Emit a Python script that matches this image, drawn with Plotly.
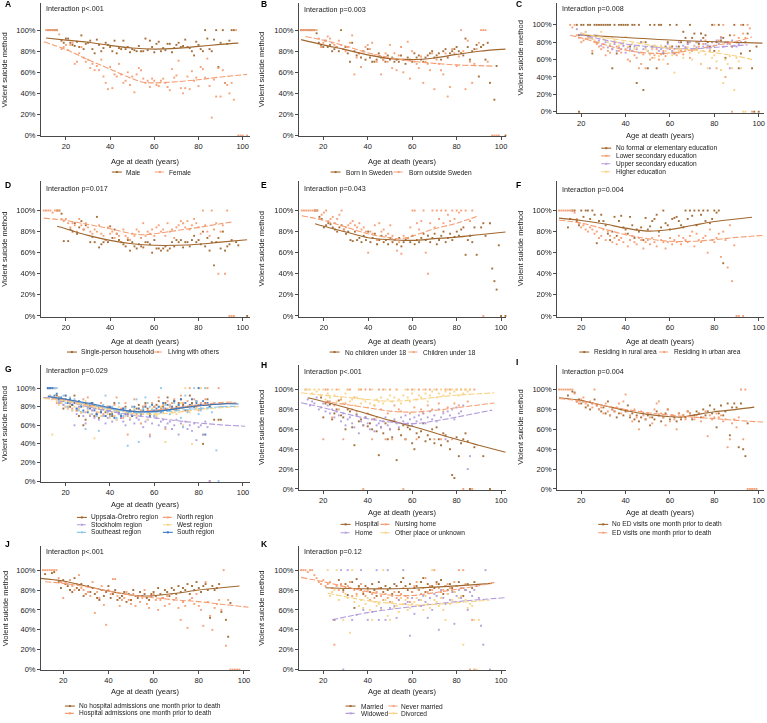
import plotly.graph_objects as go

W, H = 767, 723
N = None

BROWN = "#A0672F"
SALMON = "#F59D72"
PURPLE = "#B29CDC"
YELLOW = "#F8D283"
LBLUE = "#8CC6EA"
BLUE = "#3D78C4"

# ---------------- DATA ----------------
# scatter: first age, then one value (% violent) per consecutive age (None = no point)
# curves: ages and smoothed values

# A
A_labels = ["Male", "Female"]
A_male_start = 12
A_male = [100,100,100,100,100,N,90,88,92,92,88,86,85,89,84,95,82,87,88,90,82,78,91,86,80,83,88,86,84,80,90,78,83,82,90,82,84,79,82,81,80,85,80,80,92,81,90,84,79,87,89,80,83,81,87,87,79,83,86,88,84,85,91,84,83,80,76,89,86,82,80,100,92,82,80,91,100,65,88,100,50,87,90,100,100]
A_female_start = 11
A_female = [100,100,100,100,100,100,96,82,84,86,81,86,88,68,70,78,84,74,70,72,64,68,62,66,62,72,56,50,44,65,45,58,56,68,58,50,52,60,48,56,41,58,64,62,54,50,52,46,54,52,48,47,52,54,50,46,43,63,55,57,71,45,40,45,56,44,61,52,55,47,65,63,55,73,47,17,53,37,64,37,62,50,48,40,50,34,100,0,0,0,N,0]
A_male_cx = [11, 20, 30, 40, 50, 60, 70, 80, 90, 98]
A_male_cy = [92.5, 90.5, 88.5, 85.5, 83, 82, 82.7, 84.6, 86.5, 87.7]
A_female_cx = [10, 20, 30, 40, 50, 55, 60, 70, 80, 90, 102]
A_female_cy = [89, 81.5, 72, 63, 54, 50.5, 50, 51, 53, 55.5, 58]

# B
B_labels = ["Born in Sweden", "Born outside Sweden"]
B_swe_start = 10
B_swe = [100,100,100,100,100,100,100,97,88,86,84,90,84,86,80,82,84,80,100,82,84,78,70,88,80,76,78,74,80,72,82,74,70,70,72,78,74,72,70,76,72,74,70,72,70,76,72,68,74,72,70,78,74,76,72,70,74,76,78,80,74,76,78,72,80,82,74,78,80,82,84,80,78,76,92,84,72,80,82,86,56,84,86,72,88,50,N,34,66,N,N,N,0]
B_out_start = 10
B_out = [100,100,100,100,100,100,100,100,92,84,88,90,94,92,88,86,84,90,86,82,80,84,88,95,58,74,78,65,80,84,86,82,88,76,70,75,58,72,78,70,86,64,78,62,76,84,60,72,89,54,80,70,68,64,75,50,70,68,62,78,44,72,68,62,58,78,37,46,82,78,66,75,100,80,44,90,70,50,68,82,88,100,100,100,70,N,0,0,0,0]
B_swe_cx = [10, 20, 30, 40, 50, 60, 70, 80, 90, 102]
B_swe_cy = [91, 86, 81.5, 76.5, 73, 72, 73.6, 77, 80, 82]
B_out_cx = [12, 20, 30, 40, 50, 60, 70, 80, 90, 97]
B_out_cy = [94, 90.5, 85, 78.5, 74, 70.5, 68.5, 67, 66.3, 65.8]

# C
C_labels = ["No formal or elementary education", "Lower secondary education",
            "Upper secondary education", "Higher education"]
C_none_start = 18
C_none = [100,0,100,100,N,100,100,67,100,100,100,100,100,100,100,100,50,100,67,100,100,100,100,100,75,100,100,33,100,80,25,80,50,100,75,100,50,100,100,67,75,80,100,75,67,100,75,80,92,85,80,100,85,90,80,78,90,85,88,80,75,100,70,80,100,82,85,62,80,88,75,100,80,50,67,100,80,90,70,50,0,75,0]
C_low_start = 15
C_low = [100,97,100,88,85,80,82,84,85,86,70,80,78,75,72,74,65,70,68,72,80,75,70,68,76,72,60,58,70,65,62,50,55,66,50,70,60,62,65,72,60,66,70,64,55,74,68,72,65,68,70,66,74,78,62,70,72,80,75,55,78,82,76,70,80,100,50,82,86,100,40,80,78,0,88,80,85,100,90,85,100,96,0]
C_up_start = 18
C_up = [95,88,90,89,92,86,85,84,88,80,82,76,78,80,74,76,72,78,70,74,72,76,68,74,72,70,75,72,68,80,72,74,70,66,72,76,74,70,72,68,74,78,72,70,68,75,80,72,76,74,78,80,72,76,74,80,82,75,78,76,50,80,76,82,78,85,75,80,78,50,82,76,75,78,80]
C_high_start = 20
C_high = [90,88,92,86,85,84,82,88,80,92,84,82,80,78,85,82,80,76,78,80,86,75,70,78,72,74,76,68,80,72,70,66,72,62,68,64,76,60,70,72,75,65,45,68,70,72,62,70,74,68,60,75,72,68,55,70,66,50,72,62,65,58,70,48,33,60,55,64,50,25,62,58,50,0,0]
C_none_cx = [18.5, 40, 60, 80, 101.7]
C_none_cy = [88.5, 85.5, 82.5, 80.5, 79]
C_low_cx = [15, 20, 30, 40, 50, 60, 70, 80, 90, 97]
C_low_cy = [88, 85, 77.5, 71, 67.5, 67.5, 71, 76, 81, 86]
C_up_cx = [19, 30, 40, 50, 60, 70, 80, 90, 95]
C_up_cy = [89, 83, 78, 75, 73, 72.5, 74, 76, 77]
C_high_cx = [20, 30, 40, 50, 60, 70, 80, 90, 97]
C_high_cy = [90, 85.5, 81.7, 77, 73, 71, 68, 64, 60]

# D
D_labels = ["Single-person household", "Living with others"]
D_single_start = 16
D_single = [100,100,97,71,N,71,82,80,88,78,84,90,82,86,N,70,75,70,94,65,68,70,72,70,85,74,82,78,72,70,68,66,72,62,70,66,64,68,66,65,70,70,68,60,72,64,64,62,64,66,62,64,70,66,72,70,72,65,70,70,66,72,76,70,72,68,80,66,74,62,70,48,70,74,64,80,62,66,68,72,N,70,67,N,N,N,0]
D_others_start = 10
D_others = [100,100,100,100,98,100,100,100,92,90,92,88,84,88,86,80,92,86,82,88,84,80,78,82,80,86,78,76,72,84,78,80,74,78,76,70,82,76,74,72,78,76,82,80,74,88,76,80,78,82,76,84,86,80,82,76,88,80,82,74,84,86,90,88,84,90,82,86,92,88,84,78,100,86,80,76,100,82,88,40,80,86,40,100,0,0,0]
D_single_cx = [16, 20, 30, 40, 50, 60, 70, 80, 90, 102]
D_single_cy = [85, 82.7, 76.4, 71.7, 68.5, 67, 67, 68, 70, 72.3]
D_others_cx = [10, 20, 30, 40, 50, 55, 60, 70, 80, 90, 95]
D_others_cy = [92.8, 90.6, 86.8, 82.7, 78, 77, 78, 81, 84, 87.4, 89]

# E
E_labels = ["No children under 18", "Children under 18"]
E_nochild_start = 16
E_nochild = [100,100,94,92,84,86,88,87,84,82,80,84,86,82,78,80,72,71,80,72,74,70,76,72,80,70,74,78,68,72,76,70,72,68,74,70,72,68,74,66,70,72,74,70,76,68,72,70,74,78,72,76,70,74,78,68,72,76,80,70,74,78,72,75,80,76,82,84,58,72,76,70,84,58,N,84,88,76,N,88,45,33,25,67,0,N,0]
E_child_start = 10
E_child = [100,100,100,100,100,100,100,100,92,96,98,100,90,92,94,88,92,96,100,82,84,86,88,90,86,84,88,82,84,80,60,80,78,86,72,88,80,82,76,78,86,76,72,62,70,59,76,74,74,84,100,100,88,82,90,100,60,40,88,100,84,100,92,100,88,100,96,90,100,92,100,98,100,N,100,N,90,100,N,N,N,N,0]
E_nochild_cx = [16, 20, 30, 40, 50, 60, 70, 80, 90, 102]
E_nochild_cy = [87.4, 85, 79.6, 74.2, 72.3, 71.7, 73.3, 74.8, 77, 79.6]
E_child_cx = [10, 20, 30, 40, 50, 55, 60, 70, 80, 89]
E_child_cy = [95, 90.6, 84.3, 78, 74, 73.3, 75.8, 82.7, 88, 94.3]

# F
F_labels = ["Residing in rural area", "Residing in urban area"]
F_rural_start = 14
F_rural = [84,92,100,100,90,86,100,94,100,100,92,100,96,69,90,96,90,86,78,72,80,94,76,90,95,84,82,78,94,86,74,82,80,84,72,93,82,85,90,92,96,80,84,100,88,86,82,92,93,94,90,86,84,100,92,100,95,100,86,100,96,100,90,100,88,92,100,98,100,N,50]
F_urban_start = 10
F_urban = [100,100,100,100,100,100,100,98,92,88,84,86,82,80,84,82,78,80,74,76,82,72,80,76,70,74,68,72,74,70,78,66,72,76,70,68,74,72,64,70,72,68,74,70,66,76,72,70,64,70,74,68,72,70,76,68,74,72,70,76,80,66,78,72,70,74,76,60,82,72,70,74,78,56,80,72,46,86,33,67,0,0,N,0]
F_rural_cx = [10, 20, 30, 40, 50, 60, 70, 80, 90, 97]
F_rural_cy = [92.8, 90.6, 87.4, 83.3, 80.5, 82, 85.8, 89.6, 92, 93.7]
F_urban_cx = [10, 20, 30, 40, 50, 60, 70, 80, 90, 102]
F_urban_cy = [91, 88, 82.7, 77, 73.3, 70.8, 70.8, 72.3, 74.5, 76.4]

# G
G_labels = ["Uppsala-Örebro region", "North region", "Stockholm region",
            "West region", "Southeast region", "South region"]
G_upp_start = 12
G_upp = [100,100,N,100,92,90,84,78,88,86,80,82,92,76,70,74,60,66,80,82,84,70,72,68,76,78,74,80,72,70,84,76,74,68,78,80,72,76,70,74,78,82,76,80,84,78,72,76,80,82,86,78,80,84,90,82,78,86,80,84,88,82,76,80,92,84,80,86,82,78,40,84,88,80,N,66,N,66,66]
G_north_start = 12
G_north = [100,92,88,100,84,90,86,82,92,80,84,78,86,76,80,82,88,74,90,80,76,82,74,78,84,72,70,80,76,74,82,90,72,78,68,84,50,76,80,88,72,78,62,80,82,76,50,84,80,74,90,78,82,56,86,80,84,88,76,78,92,84,80,86,100,82,88,80,76,84,50,88,100,0,N,N,N,100]
G_sto_start = 12
G_sto = [100,100,100,100,88,84,86,82,80,78,84,76,60,72,80,74,70,62,78,70,76,68,72,66,74,70,62,68,76,64,70,66,72,68,64,60,70,66,72,62,68,66,70,58,64,66,48,62,70,68,60,64,66,58,62,64,56,60,66,50,62,58,64,56,60,54,62,44,58,60,50,64,58,0]
G_west_start = 14
G_west = [50,100,86,82,84,88,80,78,82,76,80,84,78,74,80,86,76,72,82,46,78,74,70,80,76,72,68,74,70,66,80,72,76,70,74,68,72,78,70,74,76,72,80,66,74,78,72,70,76,80,74,42,78,82,74,76,72,80,84,60,100,76,74,40,80,78,100,100,82,100]
G_se_start = 12
G_se = [100,100,100,100,100,86,88,92,84,80,90,86,88,78,76,82,74,56,80,84,72,78,70,54,76,82,92,74,70,80,76,68,84,72,70,78,38,74,80,76,88,42,74,78,90,84,80,76,70,74,80,100,78,82,76,72,80,84,76,82,68,58,92,74,78,80,100,86,72,76,82,100,78,80,74,84,33,0,80]
G_south_start = 12
G_south = [100,100,100,92,94,88,90,86,92,84,88,82,84,78,86,80,76,82,74,78,84,76,72,80,74,78,70,76,80,72,68,76,74,70,78,72,74,76,70,80,74,78,72,76,80,74,70,82,76,78,80,74,84,78,82,76,80,86,78,82,88,80,84,76,82,88,80,84,100,82,86,50,84,80]
G_upp_cx = [12, 20, 30, 40, 50, 60, 70, 80, 90, 97]
G_upp_cy = [91, 88, 83, 78, 75, 75, 78, 81, 83, 84]
G_north_cx = [10, 20, 30, 40, 50, 60, 70, 80, 90, 95]
G_north_cy = [90, 87, 82, 78, 75, 76, 79, 82, 84.5, 85]
G_sto_cx = [10, 20, 30, 40, 50, 60, 70, 80, 90, 101]
G_sto_cy = [90, 86, 80, 75, 71, 68, 65, 62.5, 60.5, 59]
G_west_cx = [10, 20, 30, 40, 50, 60, 70, 80, 90, 98]
G_west_cy = [89, 86, 81, 77, 73, 72, 74, 77, 79, 80]
G_se_cx = [12, 20, 30, 40, 50, 60, 70, 80, 90, 98]
G_se_cy = [92, 88, 83, 78, 74, 74, 76, 78, 80, 80.5]
G_south_cx = [12, 20, 30, 40, 50, 60, 70, 80, 90, 98]
G_south_cy = [91, 88, 84, 79, 75, 75, 78, 81, 83, 83]

# H
H_labels = ["Hospital", "Nursing home", "Home", "Other place or unknown"]
H_hosp_start = 19
H_hosp = [92,72,86,88,85,70,76,80,89,74,72,60,80,78,62,44,75,68,70,64,72,63,66,60,70,58,34,62,56,66,50,60,52,68,29,60,54,64,50,62,60,46,40,56,52,58,66,48,54,50,60,46,62,50,44,56,54,48,40,14,11,52,33,46,50,56,48,0,N,42,N,N,N,33,N,N,0]
H_nurse_start = 20
H_nurse = [50,100,100,88,72,84,100,80,90,50,86,100,100,80,92,78,100,100,0,100,76,100,50,84,72,100,80,100,50,76,100,50,84,100,80,78,0,50,100,76,100,82,50,100,80,76,100,84,100,80,50,100,86,50,78,100,82,100,50,86,100,84,100,0,100,88,100,0,100]
H_home_start = 12
H_home = [100,90,84,88,86,92,80,82,86,78,84,76,80,72,78,74,68,76,64,70,72,66,62,74,56,68,64,72,66,60,70,58,64,66,62,68,72,64,60,68,70,66,62,72,68,74,66,70,64,72,68,74,70,76,66,72,78,70,74,68,80,72,76,50,78,74,80,70,82,76,78,84,N,20,33]
H_other_start = 12
H_other = [100,100,100,96,100,98,100,94,100,90,96,92,100,94,88,100,92,86,96,100,88,90,84,92,100,86,90,88,82,86,100,84,90,88,92,86,100,90,94,88,92,100,90,86,94,100,92,88,96,100,90,94,92,100,96,88,94,98,100,92,96,100,94,98,100,96,100,98,100,94,100,96,100,98,100]
H_hosp_cx = [13, 20, 30, 40, 50, 60, 70, 80, 90, 102]
H_hosp_cy = [91.7, 88, 82, 75.5, 69, 63, 56.5, 50, 44, 37]
H_nurse_cx = [20, 30, 40, 50, 60, 70, 80, 90, 97]
H_nurse_cy = [88, 85, 81.7, 78.3, 77.3, 79, 81.7, 84.5, 86.5]
H_home_cx = [10, 20, 30, 40, 50, 60, 70, 80, 90, 96]
H_home_cy = [86.7, 81.7, 75.7, 70.7, 67.3, 65.7, 68.3, 72.3, 76.7, 79.3]
H_other_cx = [10, 20, 30, 40, 50, 60, 70, 80, 90, 97]
H_other_cy = [96.7, 94.3, 92.3, 90, 88.3, 89.5, 92, 94.3, 95.7, 96.7]

# I
I_labels = ["No ED visits one month prior to death", "ED visits one month prior to death"]
I_no_start = 14
I_no = [94,N,98,97,88,90,86,88,82,84,80,86,90,84,80,78,82,76,88,74,80,78,72,76,80,74,78,84,72,76,70,74,68,72,76,70,74,64,72,70,78,74,68,72,76,80,70,74,72,68,76,70,74,72,78,76,70,74,78,76,72,80,74,78,84,76,80,62,76,84,74,78,86,54,82,86,82,42,86,40,33,66]
I_ed_start = 10
I_ed = [100,100,100,100,100,100,100,96,88,86,90,92,86,84,88,82,100,84,80,82,76,86,78,74,80,78,82,86,76,88,95,78,74,68,80,72,60,78,74,70,76,72,66,80,86,88,76,72,64,80,68,74,70,60,76,72,74,70,78,76,72,70,74,76,68,72,78,53,74,70,72,76,72,74,68,70,42,50,66,70,62,72,100,50,100,0,0,0,0,0]
I_no_cx = [10, 20, 30, 40, 50, 60, 65, 70, 80, 90, 98]
I_no_cy = [91.7, 89, 84, 79, 75, 72.7, 72.3, 74, 77.7, 80, 82.3]
I_ed_cx = [10, 20, 30, 40, 50, 60, 70, 80, 90, 102]
I_ed_cy = [91, 88.3, 84, 80, 76.7, 74.3, 72.3, 70.7, 69, 67.3]

# J
J_labels = ["No hospital admissions one month prior to death", "Hospital admissions one month prior to death"]
J_no_start = 12
J_no = [96,N,N,97,98,N,88,82,90,86,84,80,78,92,82,80,86,74,76,84,78,82,76,72,70,80,74,78,84,72,76,80,70,72,74,78,68,76,70,80,74,72,78,74,76,72,70,76,78,74,82,76,72,80,78,74,82,80,76,84,78,82,80,86,76,84,80,88,82,78,84,86,80,52,84,80,82,86,58,N,50,33,67]
J_adm_start = 10
J_adm = [100,100,100,100,100,100,100,100,92,88,72,88,86,90,84,80,86,95,82,80,76,78,74,88,57,78,72,84,65,45,80,76,91,91,74,64,70,72,78,70,66,76,64,74,68,72,80,66,62,74,76,70,60,70,72,64,74,66,76,70,72,62,50,68,64,42,70,72,66,76,64,60,44,88,68,54,40,62,66,70,60,100,24,70,0,0,0,0,0]
J_no_cx = [10, 20, 30, 40, 50, 55, 60, 70, 80, 90, 98]
J_no_cy = [91.7, 89, 84, 79, 75, 74, 74.3, 76.7, 80, 82.3, 84]
J_adm_cx = [12, 20, 30, 40, 50, 60, 70, 80, 90, 102]
J_adm_cy = [88.3, 86.7, 83.3, 79, 75, 72.3, 70, 68.3, 65.7, 62.7]

# K
K_labels = ["Married", "Never married", "Widowed", "Divorced"]
K_mar_start = 25
K_mar = [50,N,90,85,80,86,75,82,88,62,91,84,80,76,84,82,78,86,80,74,88,82,78,84,80,82,76,86,84,78,88,92,84,80,86,78,82,84,80,88,92,78,86,80,84,82,88,86,90,76,84,80,86,82,78,84,88,N,74,80,86,N,82,88]
K_nev_start = 10
K_nev = [100,100,100,98,100,100,95,92,88,86,90,84,86,88,82,25,84,80,86,78,82,84,88,74,80,76,82,86,78,74,80,70,76,72,78,82,74,70,76,72,68,74,78,72,70,76,82,74,72,68,78,84,88,80,76,82,92,78,84,80,100,86,82,78,80,84,86,82,80,88,84,100,82,100,86,N,0,50,0]
K_wid_start = 28
K_wid = [100,0,N,100,N,50,N,55,N,100,60,N,50,N,58,N,100,50,62,N,50,100,62,N,64,52,70,N,100,66,68,34,72,56,N,70,64,74,68,52,72,60,76,74,40,80,72,66,76,70,78,46,74,80,72,82,80,60,78,74,80,84,72,44,25,100,N,0]
K_div_start = 22
K_div = [100,74,78,80,100,70,84,50,76,72,37,100,68,74,64,70,62,66,72,60,50,68,64,66,60,100,70,54,50,68,62,64,58,72,66,70,60,62,66,68,72,64,70,60,74,66,62,100,70,68,64,72,60,50,76,66,70,78,68,72,74,25,70,62,66,64,50,0,50]
K_mar_cx = [21, 40, 60, 80, 96]
K_mar_cy = [82.3, 81.2, 81.8, 84.2, 86.7]
K_nev_cx = [10, 20, 30, 40, 50, 60, 70, 80, 90, 97]
K_nev_cy = [92.7, 88.3, 83.3, 78.3, 75, 74.5, 77.3, 80.7, 84.3, 87.7]
K_wid_cx = [24, 40, 60, 80, 102]
K_wid_cy = [50, 57.3, 63.3, 68.3, 72.3]
K_div_cx = [22, 30, 40, 50, 60, 70, 80, 90, 95]
K_div_cy = [76.7, 73.3, 69.3, 66.7, 65, 65.5, 67.3, 69, 70]

X_TICKS = [20, 40, 60, 80, 100]
Y_TICKS = [0, 20, 40, 60, 80, 100]
Y_TICKTEXT = ["0%", "20%", "40%", "60%", "80%", "100%"]
X_TITLE = "Age at death (years)"
Y_TITLE = "Violent suicide method"

# ---------------- PANELS ----------------
DASH = "6px,2px"
panels = [
    ("A", "Interaction p<.001", A_labels, [
        (A_male_start, A_male, A_male_cx, A_male_cy, BROWN, "solid"),
        (A_female_start, A_female, A_female_cx, A_female_cy, SALMON, DASH)]),
    ("B", "Interaction p=0.003", B_labels, [
        (B_swe_start, B_swe, B_swe_cx, B_swe_cy, BROWN, "solid"),
        (B_out_start, B_out, B_out_cx, B_out_cy, SALMON, DASH)]),
    ("C", "Interaction p=0.008", C_labels, [
        (C_none_start, C_none, C_none_cx, C_none_cy, BROWN, "solid"),
        (C_low_start, C_low, C_low_cx, C_low_cy, SALMON, DASH),
        (C_up_start, C_up, C_up_cx, C_up_cy, PURPLE, DASH),
        (C_high_start, C_high, C_high_cx, C_high_cy, YELLOW, DASH)]),
    ("D", "Interaction p=0.017", D_labels, [
        (D_single_start, D_single, D_single_cx, D_single_cy, BROWN, "solid"),
        (D_others_start, D_others, D_others_cx, D_others_cy, SALMON, DASH)]),
    ("E", "Interaction p=0.043", E_labels, [
        (E_nochild_start, E_nochild, E_nochild_cx, E_nochild_cy, BROWN, "solid"),
        (E_child_start, E_child, E_child_cx, E_child_cy, SALMON, DASH)]),
    ("F", "Interaction p=0.004", F_labels, [
        (F_rural_start, F_rural, F_rural_cx, F_rural_cy, BROWN, "solid"),
        (F_urban_start, F_urban, F_urban_cx, F_urban_cy, SALMON, DASH)]),
    ("G", "Interaction p=0.029", G_labels, [
        (G_upp_start, G_upp, G_upp_cx, G_upp_cy, BROWN, "solid"),
        (G_north_start, G_north, G_north_cx, G_north_cy, SALMON, DASH),
        (G_sto_start, G_sto, G_sto_cx, G_sto_cy, PURPLE, DASH),
        (G_west_start, G_west, G_west_cx, G_west_cy, YELLOW, DASH),
        (G_se_start, G_se, G_se_cx, G_se_cy, LBLUE, DASH),
        (G_south_start, G_south, G_south_cx, G_south_cy, BLUE, "solid")]),
    ("H", "Interaction p<.001", H_labels, [
        (H_hosp_start, H_hosp, H_hosp_cx, H_hosp_cy, BROWN, "solid"),
        (H_nurse_start, H_nurse, H_nurse_cx, H_nurse_cy, SALMON, DASH),
        (H_home_start, H_home, H_home_cx, H_home_cy, PURPLE, DASH),
        (H_other_start, H_other, H_other_cx, H_other_cy, YELLOW, DASH)]),
    ("I", "Interaction p=0.004", I_labels, [
        (I_no_start, I_no, I_no_cx, I_no_cy, BROWN, "solid"),
        (I_ed_start, I_ed, I_ed_cx, I_ed_cy, SALMON, DASH)]),
    ("J", "Interaction p<.001", J_labels, [
        (J_no_start, J_no, J_no_cx, J_no_cy, BROWN, "solid"),
        (J_adm_start, J_adm, J_adm_cx, J_adm_cy, SALMON, DASH)]),
    ("K", "Interaction p=0.12", K_labels, [
        (K_mar_start, K_mar, K_mar_cx, K_mar_cy, BROWN, "solid"),
        (K_nev_start, K_nev, K_nev_cx, K_nev_cy, SALMON, DASH),
        (K_wid_start, K_wid, K_wid_cx, K_wid_cy, PURPLE, DASH),
        (K_div_start, K_div, K_div_cx, K_div_cy, YELLOW, DASH)]),
]

# geometry in pixels: left, right, top, bottom, x20, x100, y100, y0
GEOM = {
    "A": (41, 250, 3, 137, 66, 243, 30.3, 136.3),
    "B": (299.3, 506.7, 3, 137, 323.7, 501.7, 30.3, 136.3),
    "C": (557.7, 765, 3, 114, 582, 759.7, 25, 112.3),
    "D": (41, 250, 182, 318.5, 66, 243, 211.7, 317.7),
    "E": (299.3, 506.7, 182, 318.5, 324.3, 501.7, 211.7, 317.7),
    "F": (557.7, 765, 182, 318.5, 582, 759.7, 211.7, 317.7),
    "G": (41, 250, 367, 484.7, 65.7, 243.3, 390.3, 483.7),
    "H": (299.3, 506.7, 367, 492.5, 323.7, 501.7, 391.7, 491.7),
    "I": (557.7, 765, 367, 492.5, 582, 759.7, 391.7, 491.7),
    "J": (41, 250, 549, 674.1, 63.3, 244.3, 573.3, 673.3),
    "K": (299.3, 506.7, 549, 674.1, 323.7, 501.7, 573.3, 673.3),
}
# letter (x,y), interaction y, y-title x, x-title y, legend items (sym_x0, text_x, y)
DECOR = {
    "A": ((3, 4), 9, 5, 162, [(112, 124, 173), (155, 167, 173)]),
    "B": ((259, 4), 9.3, 262, 162, [(331, 344, 173), (394, 408, 173)]),
    "C": ((515, 4), 8.3, 521, 136.7, [(602, 615, 149), (602, 615, 156.7), (602, 615, 164.7), (602, 615, 172.7)]),
    "D": ((3, 186), 190, 5, 343.3, [(67, 79, 354), (153, 166, 354)]),
    "E": ((259, 186), 190, 262, 343.3, [(330, 343, 354), (409, 422, 354)]),
    "F": ((515, 186), 190.7, 522, 343.3, [(580, 593, 354), (660, 673, 354)]),
    "G": ((3, 370.7), 372.7, 5, 507, [(77, 89, 520.3), (163, 175.5, 520.3), (77, 89, 527.7),
                                     (163, 175.5, 527.7), (77, 89, 535.3), (163, 175.5, 535.3)]),
    "H": ((259, 367.3), 373.3, 262, 515.7, [(341, 353.5, 527.3), (381, 393.5, 527.3),
                                           (341, 353.5, 535.7), (381, 393.5, 535.7)]),
    "I": ((515, 364), 373.3, 521, 515.7, [(599, 611, 527.3), (599, 611, 535.7)]),
    "J": ((3, 547.3), 554.7, 5, 695.7, [(65, 77.5, 710), (65, 77.5, 717.3)]),
    "K": ((259, 547.3), 554.7, 262, 695.7, [(346, 359, 710), (389, 400, 710),
                                           (346, 359, 717.3), (389, 400, 717.3)]),
}

FONT = "Liberation Sans, Arial, Helvetica, sans-serif"
TXT = "#1a1a1a"
AXC = "#4a4a4a"
FS = 7.5
LFS = 6.6


def fx(px):
    return px / W


def fy(py):
    return 1 - py / H


fig = go.Figure()
layout = {}
annotations = []
shapes = []

for i, (key, ptxt, labels, series) in enumerate(panels, start=1):
    L, R, T, B, x20, x100, y100, y0 = GEOM[key]
    sx = (x100 - x20) / 80.0
    sy = (y0 - y100) / 100.0
    xr = [20 + (L - x20) / sx, 100 + (R - x100) / sx]
    yr = [-(B - y0) / sy, 100 + (y100 - T) / sy]
    xa = "x" if i == 1 else f"x{i}"
    ya = "y" if i == 1 else f"y{i}"
    common = dict(showline=True, linecolor=AXC, linewidth=0.8, ticks="outside",
                  ticklen=3, tickwidth=0.8, tickcolor=AXC, showgrid=False,
                  zeroline=False, tickfont=dict(size=FS, color=TXT, family=FONT))
    layout["xaxis" if i == 1 else f"xaxis{i}"] = dict(
        domain=[fx(L), fx(R)], range=xr, anchor=ya, tickvals=X_TICKS, **common)
    layout["yaxis" if i == 1 else f"yaxis{i}"] = dict(
        domain=[fy(B), fy(T)], range=yr, anchor=xa, tickvals=Y_TICKS,
        ticktext=Y_TICKTEXT, **common)

    # scatter points first, then curves
    for (start, vals, cx, cy, col, dash), lab in zip(series, labels):
        xs = [start + k for k, v in enumerate(vals) if v is not None]
        ys = [v for v in vals if v is not None]
        fig.add_trace(go.Scatter(x=xs, y=ys, mode="markers", xaxis=xa, yaxis=ya,
                                 marker=dict(symbol="square", size=1.9, color=col),
                                 opacity=0.95, cliponaxis=False, showlegend=False,
                                 name=lab, hoverinfo="skip"))
    for (start, vals, cx, cy, col, dash), lab in zip(series, labels):
        fig.add_trace(go.Scatter(x=cx, y=cy, mode="lines", xaxis=xa, yaxis=ya,
                                 line=dict(color=col, width=1.1, dash=dash,
                                           shape="spline", smoothing=1.0),
                                 showlegend=False, name=lab))

    (lx, ly), iy, ytx, xty, leg = DECOR[key]
    annotations.append(dict(text=f"<b>{key}</b>", x=fx(lx), y=fy(ly), xref="paper", yref="paper",
                            xanchor="left", yanchor="middle", showarrow=False,
                            font=dict(size=8.5, color="#000", family=FONT)))
    annotations.append(dict(text=ptxt, x=fx(L + 3), y=fy(iy), xref="paper", yref="paper",
                            xanchor="left", yanchor="middle", showarrow=False,
                            font=dict(size=7.2, color=TXT, family=FONT)))
    annotations.append(dict(text=Y_TITLE, x=fx(ytx), y=fy((T + B) / 2), xref="paper",
                            yref="paper", xanchor="center", yanchor="middle", textangle=-90,
                            showarrow=False, font=dict(size=FS, color=TXT, family=FONT)))
    annotations.append(dict(text=X_TITLE, x=fx((L + R) / 2), y=fy(xty), xref="paper",
                            yref="paper", xanchor="center", yanchor="middle",
                            showarrow=False, font=dict(size=FS, color=TXT, family=FONT)))
    for (s0, tx, yy), (start, vals, cx, cy, col, dash), lab in zip(leg, series, labels):
        shapes.append(dict(type="line", xref="paper", yref="paper",
                           x0=fx(s0), x1=fx(s0 + 10), y0=fy(yy), y1=fy(yy),
                           line=dict(color=col, width=1.1, dash="4px,1px" if dash != "solid" else "solid")))
        shapes.append(dict(type="rect", xref="paper", yref="paper",
                           x0=fx(s0 + 4), x1=fx(s0 + 6), y0=fy(yy + 1), y1=fy(yy - 1),
                           line=dict(width=0), fillcolor=col))
        annotations.append(dict(text=lab, x=fx(tx), y=fy(yy), xref="paper", yref="paper",
                                xanchor="left", yanchor="middle", showarrow=False,
                                font=dict(size=LFS, color=TXT, family=FONT)))

fig.update_layout(width=W, height=H, margin=dict(l=0, r=0, t=0, b=0),
                  paper_bgcolor="white", plot_bgcolor="white", showlegend=False,
                  font=dict(family=FONT, size=FS, color=TXT),
                  annotations=annotations, shapes=shapes, **layout)

fig.write_html("out.html")
